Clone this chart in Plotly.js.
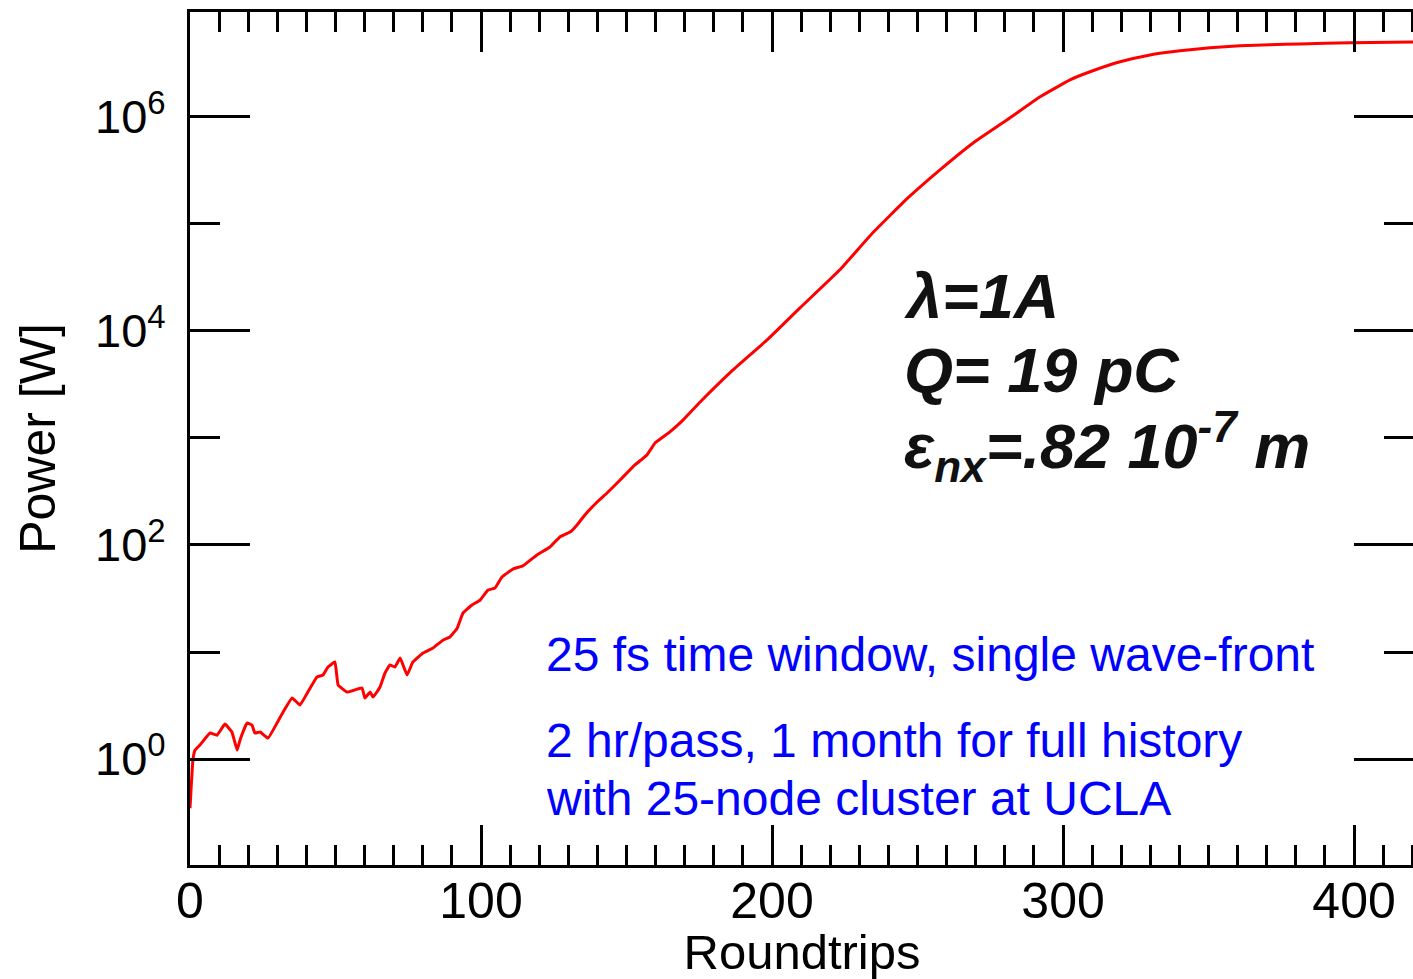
<!DOCTYPE html>
<html>
<head>
<meta charset="utf-8">
<script src="https://cdn.plot.ly/plotly-3.0.1.min.js"></script>
<style>
html, body { margin: 0; padding: 0; background: #fff; overflow: hidden; }
#chart { width: 1430px; height: 979px; }
</style>
</head>
<body>
<div id="chart"></div>
<script>
// Data
const roundtrips = [0, 1.0, 1.7, 3.4, 6.9, 9.3, 12.0, 14.4, 16.2, 17.2, 19.6, 21.3, 22.3, 24.1, 26.8, 29.9, 32.0, 35.1, 37.8, 40.5, 43.6, 45.7, 47.4, 49.8, 50.9, 54.0, 59.1, 60.1, 61.9, 62.9, 65.3, 67.0, 68.7, 70.4, 72.2, 73.2, 74.6, 76.6, 80.1, 83.5, 86.9, 89.3, 91.8, 93.8, 96.9, 99.7, 102.4, 104.8, 107.2, 111.0, 114.4, 119.2, 123.7, 127.1, 130.6, 133.0, 135.7, 139.9, 143.3, 147.8, 152.9, 157.0, 159.8, 164.9, 169.4, 175.3, 186.6, 198.3, 209.6, 223.4, 234.7, 246.4, 257.7, 269.1, 280.8, 292.1, 302.4, 309.3, 319.6, 329.9, 340.2, 350.5, 360.8, 371.1, 381.4, 398.6, 420.3];
const powerW = [0.347, 0.977, 1.21, 1.35, 1.75, 1.67, 2.12, 1.79, 1.21, 1.51, 2.17, 2.08, 1.75, 1.79, 1.57, 2.17, 2.75, 3.72, 3.20, 4.23, 5.83, 6.10, 7.24, 8.07, 4.92, 4.23, 4.61, 3.72, 4.23, 3.79, 4.71, 6.37, 7.57, 7.24, 8.79, 7.57, 6.10, 8.07, 9.79, 10.9, 12.9, 13.8, 16.7, 23.1, 27.5, 30.6, 37.9, 39.6, 50.2, 59.7, 63.7, 80.7, 95.7, 119, 132, 154, 191, 252, 306, 405, 560, 693, 897, 1140, 1470, 2170, 4330, 8240, 16400, 37500, 83000, 172000, 320000, 571000, 938000, 1540000, 2220000, 2640000, 3270000, 3790000, 4140000, 4420000, 4610000, 4710000, 4810000, 4920000, 5020000];

const yTickVals = [1, 100, 10000, 1000000];
const yTickText = ['10<sup>0</sup>', '10<sup>2</sup>', '10<sup>4</sup>', '10<sup>6</sup>'];
const yMinorVals = [10, 1000, 100000];
const xTickVals = [0, 100, 200, 300, 400];

const infoLines = ['λ=1A', 'Q= 19 pC', 'ε<sub>nx</sub>=.82 10<sup>-7</sup> m'];
const noteLines = ['25 fs time window, single wave-front', '2 hr/pass, 1 month for full history', 'with 25-node cluster at UCLA'];

const FONT = 'Liberation Sans, Arial, Helvetica, sans-serif';

const trace = {
  x: roundtrips,
  y: powerW,
  type: 'scatter',
  mode: 'lines',
  line: { color: '#ff0000', width: 3, shape: 'spline', smoothing: 0.3 },
  hoverinfo: 'skip'
};

const infoY = [0.667, 0.580, 0.491];
const noteY = [0.2462, 0.1454, 0.0785];
const annotations = [];
infoLines.forEach((t, i) => annotations.push({
  xref: 'paper', yref: 'paper', x: 0.5815, y: infoY[i], xanchor: 'left', yanchor: 'middle',
  text: '<b><i>' + t + '</i></b>', showarrow: false,
  font: { family: FONT, size: 63, color: '#111111' }
}));
noteLines.forEach((t, i) => annotations.push({
  xref: 'paper', yref: 'paper', x: 0.2895, y: noteY[i], xanchor: 'left', yanchor: 'middle',
  text: t, showarrow: false,
  font: { family: FONT, size: 48, color: '#0000ff' }
}));

const layout = {
  width: 1430, height: 979,
  margin: { l: 190, r: 16, t: 12, b: 114 },
  paper_bgcolor: '#ffffff', plot_bgcolor: '#ffffff',
  showlegend: false,
  font: { family: FONT, color: '#000000' },
  xaxis: {
    range: [0, 420.6],
    tickmode: 'array', tickvals: xTickVals,
    ticks: 'inside', ticklen: 40, tickwidth: 3, tickcolor: '#000',
    minor: { dtick: 10, ticks: 'inside', ticklen: 20, tickwidth: 3, tickcolor: '#000' },
    showline: true, linewidth: 3, linecolor: '#000', mirror: 'ticks',
    showgrid: false, zeroline: false,
    tickfont: { family: FONT, size: 50, color: '#000' },
    ticklabelstandoff: -10,
    title: { text: 'Roundtrips', font: { family: FONT, size: 49, color: '#000' }, standoff: 3 }
  },
  yaxis: {
    type: 'log',
    range: [-0.99, 6.98],
    tickmode: 'array', tickvals: yTickVals, ticktext: yTickText,
    ticks: 'inside', ticklen: 60, tickwidth: 3, tickcolor: '#000',
    minor: { tickmode: 'array', tickvals: yMinorVals, ticks: 'inside', ticklen: 30, tickwidth: 3, tickcolor: '#000' },
    showline: true, linewidth: 3, linecolor: '#000', mirror: 'ticks',
    showgrid: false, zeroline: false,
    tickfont: { family: FONT, size: 47, color: '#000' },
    ticklabelstandoff: 12,
    title: { text: 'Power [W]', font: { family: FONT, size: 50, color: '#000' }, standoff: 24 }
  },
  annotations: annotations
};

Plotly.newPlot('chart', [trace], layout, { displayModeBar: false, staticPlot: true });
</script>
</body>
</html>
